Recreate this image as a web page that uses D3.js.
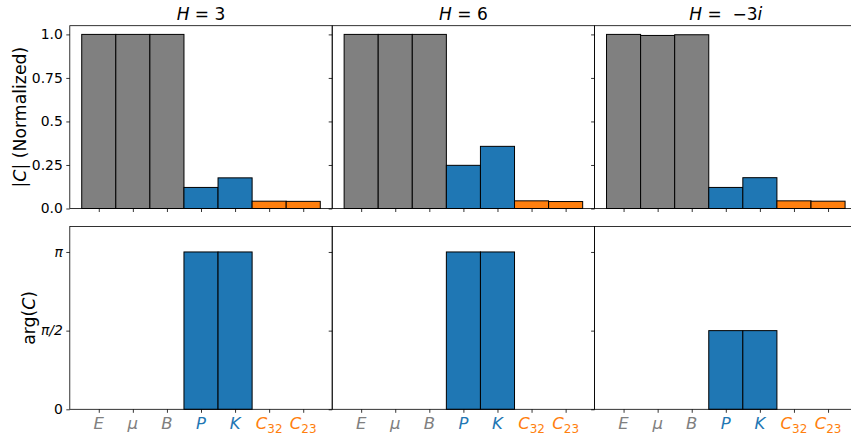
<!DOCTYPE html>
<html>
<head>
<meta charset="utf-8">
<script src="https://cdn.jsdelivr.net/npm/d3@7"></script>
<style>
  body { margin: 0; background: #fff; }
  svg { display: block; font-family: "DejaVu Sans", sans-serif; }
</style>
</head>
<body>
<svg id="chart" width="851" height="437"></svg>
<script>
// coefficient names and their colour groups
const labels = ["E", "μ", "B", "P", "K", "C32", "C23"];
const barColors = ["gray", "gray", "gray", "#1f77b4", "#1f77b4", "#ff7f0e", "#ff7f0e"];

// panel titles (mathtext-like pieces)
const titles = [
  [["H", true], [" = 3", false]],
  [["H", true], [" = 6", false]],
  [["H", true], [" =  −3", false], ["i", true]]
];

// |C| normalized
const magH3 = [1.0, 1.0, 1.0, 0.121, 0.176, 0.042, 0.041];
const magH6 = [1.0, 1.0, 1.0, 0.248, 0.357, 0.044, 0.040];
const magHm3i = [1.0, 0.994, 0.998, 0.121, 0.177, 0.044, 0.042];

// arg(C), bottom row
const argH3 = [0, 0, 0, Math.PI, Math.PI, 0, 0];
const argH6 = [0, 0, 0, Math.PI, Math.PI, 0, 0];
const argHm3i = [0, 0, 0, Math.PI / 2, Math.PI / 2, 0, 0];

const magTicks = [0, 0.25, 0.5, 0.75, 1.0];
const magTickLabels = ["0.0", "0.25", "0.5", "0.75", "1.0"];
const argTicks = [0, Math.PI / 2, Math.PI];
const argTickLabels = [["0", false], ["π/2", true], ["π", true]];

const svg = d3.select("#chart");

// layout
const left = 69.8, panelW = 262.4;
const rows = [{ top: 25.7, bottom: 208.5 }, { top: 226.5, bottom: 409.3 }];

const x = d3.scaleLinear().domain([-0.85, 6.85]);
const yMag = d3.scaleLinear().domain([0, 1.05]).range([rows[0].bottom, rows[0].top]);
const yArg = d3.scaleLinear().domain([0, 3.65]).range([rows[1].bottom, rows[1].top]);

const mags = [magH3, magH6, magHm3i];
const args = [argH3, argH6, argHm3i];

function drawPanel(col, row, values, y) {
  const x0 = left + col * panelW;
  const xs = x.copy().range([x0, x0 + panelW]);
  const g = svg.append("g");

  // bars
  g.selectAll("rect.bar")
    .data(values)
    .join("rect")
    .attr("class", "bar")
    .attr("x", (d, i) => xs(i - 0.5))
    .attr("width", xs(1) - xs(0))
    .attr("y", d => y(d))
    .attr("height", d => y(0) - y(d))
    .attr("fill", (d, i) => row === 0 ? barColors[i] : "#1f77b4")
    .attr("stroke", "black")
    .attr("stroke-width", 1);

  // x axis (ticks only, labels drawn separately for the bottom row)
  const xAxis = g.append("g")
    .attr("transform", `translate(0,${y.range()[0]})`)
    .call(d3.axisBottom(xs).tickValues(d3.range(7)).tickSize(3.5).tickFormat(""));
  xAxis.select(".domain").remove();
  xAxis.selectAll("line").attr("stroke", "black").attr("stroke-width", 0.8);

  const yAxis = g.append("g")
    .attr("transform", `translate(${x0},0)`)
    .call(d3.axisLeft(y)
      .tickValues(row === 0 ? magTicks : argTicks)
      .tickSize(3.5)
      .tickPadding(3.5)
      .tickFormat(""));
  yAxis.select(".domain").remove();
  yAxis.selectAll("line").attr("stroke", "black").attr("stroke-width", 0.8);

  // frame
  g.append("rect")
    .attr("x", x0).attr("y", y.range()[1])
    .attr("width", panelW).attr("height", y.range()[0] - y.range()[1])
    .attr("fill", "none").attr("stroke", "black").attr("stroke-width", 0.8);

  if (col === 0) {
    const tickVals = row === 0 ? magTicks : argTicks;
    tickVals.forEach((v, i) => {
      const t = g.append("text")
        .attr("x", x0 - 7)
        .attr("y", y(v))
        .attr("dy", "0.35em")
        .attr("text-anchor", "end")
        .attr("font-size", "13.9px")
        .attr("fill", "black");
      if (row === 0) {
        t.text(magTickLabels[i]);
      } else {
        t.text(argTickLabels[i][0]).attr("font-style", argTickLabels[i][1] ? "italic" : null);
      }
    });
  }

  if (row === 0) {
    const t = g.append("text")
      .attr("x", x0 + panelW / 2)
      .attr("y", 20)
      .attr("text-anchor", "middle")
      .attr("font-size", "17px");
    titles[col].forEach(p => {
      t.append("tspan").attr("font-style", p[1] ? "italic" : "normal")
        .attr("xml:space", "preserve").text(p[0]);
    });
  } else {
    // coloured coefficient labels
    labels.forEach((lab, i) => {
      const t = g.append("text")
        .attr("x", xs(i))
        .attr("y", 429)
        .attr("text-anchor", "middle")
        .attr("font-size", "16.5px")
        .attr("fill", barColors[i]);
      t.append("tspan").attr("font-style", "italic").text(lab[0]);
      if (lab.length > 1) {
        t.append("tspan").attr("font-size", "12px").attr("dy", 4).text(lab.slice(1));
      }
    });
  }
}

for (let c = 0; c < 3; c++) {
  drawPanel(c, 0, mags[c], yMag);
  drawPanel(c, 1, args[c], yArg);
}

// y labels
const yl1 = svg.append("text")
  .attr("transform", `translate(26,${(rows[0].top + rows[0].bottom) / 2}) rotate(-90)`)
  .attr("text-anchor", "middle")
  .attr("font-size", "17.3px");
yl1.append("tspan").text("|");
yl1.append("tspan").attr("font-style", "italic").text("C");
yl1.append("tspan").text("| (Normalized)");

const yl2 = svg.append("text")
  .attr("transform", `translate(35,${(rows[1].top + rows[1].bottom) / 2}) rotate(-90)`)
  .attr("text-anchor", "middle")
  .attr("font-size", "17.3px");
yl2.append("tspan").text("arg(");
yl2.append("tspan").attr("font-style", "italic").text("C");
yl2.append("tspan").text(")");
</script>
</body>
</html>
